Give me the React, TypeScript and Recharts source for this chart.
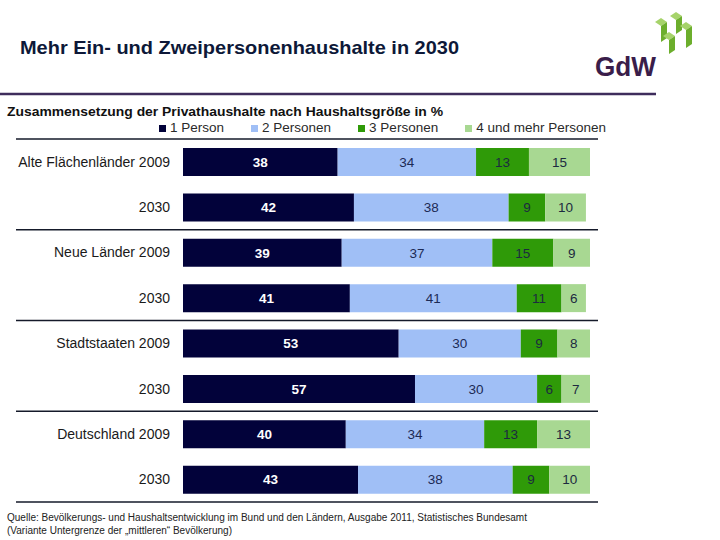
import React from 'react';
import { BarChart, Bar, XAxis, YAxis, Legend, LabelList, usePlotArea } from 'recharts';

const categories = [
  'Alte Flächenländer 2009',
  'Alte Flächenländer 2030',
  'Neue Länder 2009',
  'Neue Länder 2030',
  'Stadtstaaten 2009',
  'Stadtstaaten 2030',
  'Deutschland 2009',
  'Deutschland 2030',
];
const tickLabels = [
  'Alte Flächenländer 2009',
  '2030',
  'Neue Länder 2009',
  '2030',
  'Stadtstaaten 2009',
  '2030',
  'Deutschland 2009',
  '2030',
];
const seriesNames = ['1 Person', '2 Personen', '3 Personen', '4 und mehr Personen'];
const onePerson = [38, 42, 39, 41, 53, 57, 40, 43];
const twoPersons = [34, 38, 37, 41, 30, 30, 34, 38];
const threePersons = [13, 9, 15, 11, 9, 6, 13, 9];
const fourPlus = [15, 10, 9, 6, 8, 7, 13, 10];

const colors = ['#02023a', '#a0bff6', '#2f9a08', '#a8d892'];
const labelColors = ['#ffffff', '#1c2a55', '#1c2a40', '#1c2a40'];

const data = categories.map((c, i) => ({
  cat: c,
  idx: i,
  p1: onePerson[i],
  p2: twoPersons[i],
  p3: threePersons[i],
  p4: fourPlus[i],
}));

const FONT = '"Liberation Sans", Arial, sans-serif';

const Separators = () => {
  const area = usePlotArea();
  if (!area) return null;
  const groups = 4;
  const lines = [];
  for (let k = 0; k <= groups; k++) {
    const y = area.y + (k * area.height) / groups;
    lines.push(
      <line
        key={k}
        x1={area.x - 167}
        x2={area.x + area.width + 8}
        y1={y}
        y2={y}
        stroke="#151a2a"
        strokeWidth={1.5}
      />
    );
  }
  return <g>{lines}</g>;
};

const YTick = (props: any) => {
  const { x, y, payload } = props;
  return (
    <text
      x={x}
      y={y}
      textAnchor="end"
      dominantBaseline="central"
      fontSize={14}
      fill="#1a1a1a"
      fontFamily={FONT}
    >
      {tickLabels[payload.index]}
    </text>
  );
};

const renderLegend = (props: any) => {
  const payload = props.payload || [];
  return (
    <div
      style={{
        display: 'flex',
        gap: 27,
        fontSize: 13.5,
        color: '#2a2a2a',
        lineHeight: '16px',
        fontFamily: FONT,
        whiteSpace: 'nowrap',
      }}
    >
      {payload.map((e: any) => (
        <div key={e.value} style={{ display: 'flex', alignItems: 'center' }}>
          <span
            style={{
              width: 7,
              height: 7,
              background: e.color,
              marginRight: 4,
              display: 'inline-block',
            }}
          />
          {e.value}
        </div>
      ))}
    </div>
  );
};

const Header = () => (
  <svg width={720} height={540} style={{ position: 'absolute', left: 0, top: 0 }}>
    <text x={20} y={54} fontSize={19} fontWeight="bold" fill="#0d1838" fontFamily={FONT} textLength={439} lengthAdjust="spacingAndGlyphs">
      Mehr Ein- und Zweipersonenhaushalte in 2030
    </text>
    <line x1={0} x2={656} y1={94} y2={94} stroke="#3e2c5c" strokeWidth={2.5} />
    <text x={595} y={76} fontSize={28} fontWeight="bold" fill="#3a1d4a" fontFamily={FONT} textLength={61} lengthAdjust="spacingAndGlyphs">
      GdW
    </text>
    <g>
      <polygon points="655,22 661,18 667,22 661,26" fill="#a6d36a" />
      <polygon points="661,26 667,22 667,38 661,42" fill="#6cae2c" />
      <polygon points="670,16 676,12 682,16 676,20" fill="#a6d36a" />
      <polygon points="676,20 682,16 682,30 676,34" fill="#6cae2c" />
      <polygon points="680,26 686,22 692,26 686,30" fill="#a6d36a" />
      <polygon points="686,30 692,26 692,44 686,48" fill="#6cae2c" />
      <polygon points="663,36 669,32 675,36 669,40" fill="#a6d36a" />
      <polygon points="669,40 675,36 675,50 669,54" fill="#6cae2c" />
    </g>
    <text x={7} y={116} fontSize={13} fontWeight="bold" fill="#111" fontFamily={FONT} textLength={436} lengthAdjust="spacingAndGlyphs">
      Zusammensetzung der Privathaushalte nach Haushaltsgröße in %
    </text>
    <text x={7} y={521} fontSize={10} fill="#222" fontFamily={FONT} textLength={520} lengthAdjust="spacingAndGlyphs">
      Quelle: Bevölkerungs- und Haushaltsentwicklung im Bund und den Ländern, Ausgabe 2011, Statistisches Bundesamt
    </text>
    <text x={7} y={534} fontSize={10} fill="#222" fontFamily={FONT} textLength={225} lengthAdjust="spacingAndGlyphs">
      (Variante Untergrenze der „mittleren“ Bevölkerung)
    </text>
  </svg>
);

const keys = ['p1', 'p2', 'p3', 'p4'];

export default function App() {
  return (
    <div
      style={{
        position: 'absolute',
        left: 0,
        top: 0,
        width: 720,
        height: 540,
        background: '#fff',
        fontFamily: FONT,
      }}
    >
      <Header />
      <div style={{ position: 'absolute', left: 0, top: 0 }}>
        <BarChart
          width={720}
          height={540}
          data={data}
          layout="vertical"
          margin={{ top: 139, right: 130, bottom: 38, left: 0 }}
          barSize={28}
        >
          <XAxis type="number" domain={[0, 100]} hide />
          <YAxis
            type="category"
            dataKey="cat"
            width={183}
            axisLine={false}
            tickLine={false}
            tickSize={0}
            tickMargin={13}
            tick={<YTick />}
            interval={0}
          />
          <Legend
            layout="horizontal"
            verticalAlign="middle"
            align="center"
            content={renderLegend}
            wrapperStyle={{ position: 'absolute', top: 120, left: 159, width: 'auto', height: 'auto' }}
          />
          {keys.map((k, i) => (
            <Bar
              key={k}
              dataKey={k}
              name={seriesNames[i]}
              stackId="a"
              fill={colors[i]}
              isAnimationActive={false}
            >
              <LabelList
                dataKey={k}
                position="center"
                fill={labelColors[i]}
                fontSize={13.5}
                fontWeight={i === 0 ? 'bold' : 'normal'}
                fontFamily={FONT}
              />
            </Bar>
          ))}
          <Separators />
        </BarChart>
      </div>
    </div>
  );
}
